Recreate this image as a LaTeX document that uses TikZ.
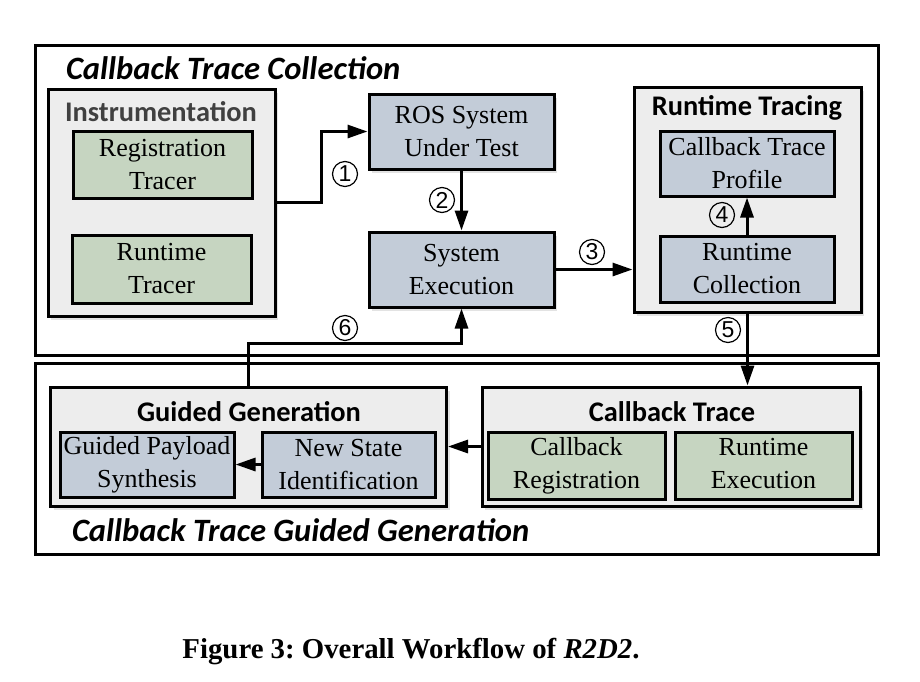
\documentclass[tikz,border=0pt]{standalone}
\usepackage{fontspec}
\setmainfont{Liberation Serif}
\newfontfamily\headfont{Carlito}
\newfontfamily\numfont{Liberation Sans}
\usepackage{xcolor}
\usetikzlibrary{arrows.meta,positioning,shadows}
\definecolor{groupgray}{HTML}{EDEDED}
\definecolor{stepblue}{HTML}{C3CCD8}
\definecolor{tracegreen}{HTML}{C6D5C1}
\newcommand{\boxfont}{\fontsize{13}{16.5}\selectfont}

\begin{document}
\begin{tikzpicture}[x=0.5pt,y=-0.5pt,
  frame/.style={draw,line width=1.5pt,inner sep=0pt},
  group/.style={draw,line width=1.5pt,fill=groupgray,inner sep=0pt,
    drop shadow={shadow xshift=1.5pt,shadow yshift=-2pt,opacity=0.22}},
  stepbox/.style={draw,line width=1.5pt,fill=stepblue,inner sep=0pt,
    align=center,font=\boxfont},
  tracebox/.style={stepbox,fill=tracegreen},
  grouptitle/.style={font=\headfont\bfseries\fontsize{14.2}{15}\selectfont},
  parttitle/.style={font=\headfont\bfseries\itshape\fontsize{16.3}{17}\selectfont,anchor=west},
  numlabel/.style={circle,draw,line width=0.6pt,inner sep=0pt,minimum size=12.5pt,
    font=\numfont\fontsize{11.5}{11.5}\selectfont},
  flow/.style={line width=1.5pt,-{Triangle[length=10pt,width=6.5pt]}}]
  \useasboundingbox (0,0) rectangle (920,681);

  \node[frame,minimum width=421.5pt,minimum height=155pt] (collect) at (456.5,200) {};
  \node[frame,minimum width=421.5pt,minimum height=95.5pt] (guide) at (456.5,458.5) {};
  \node[parttitle] (collecttitle) at (59,68) {Callback Trace Collection};
  \node[parttitle] (guidetitle) at (65,530) {Callback Trace Guided Generation};

  \node[group,minimum width=113.5pt,minimum height=113.5pt] (instr) at (161.5,202.5) {};
  \node[grouptitle,text=black!75] (instrtitle) at (161,112) {Instrumentation};
  \node[tracebox,minimum width=89.5pt,minimum height=33.5pt] (regtracer) at (162.5,164.5) {Registration\\Tracer};
  \node[tracebox,minimum width=89.5pt,minimum height=34pt] (runtracer) at (161.5,269) {Runtime\\Tracer};

  \node[stepbox,minimum width=92.5pt,minimum height=37.5pt,
    drop shadow={shadow xshift=1.5pt,shadow yshift=-2pt,opacity=0.22}] (ros) at (461.5,131.5) {ROS System\\Under Test};
  \node[stepbox,minimum width=92.5pt,minimum height=37.5pt,
    drop shadow={shadow xshift=1.5pt,shadow yshift=-2pt,opacity=0.22}] (sysexec) at (461.5,269.5) {System\\Execution};

  \node[group,minimum width=113.5pt,minimum height=112.5pt] (rtrace) at (747.5,199.5) {};
  \node[grouptitle] (rtracetitle) at (747,108) {Runtime Tracing};
  \node[stepbox,minimum width=87pt,minimum height=32.5pt] (profile) at (747,163.5) {Callback Trace\\Profile};
  \node[stepbox,minimum width=87pt,minimum height=33pt] (rcollect) at (747,269) {Runtime\\Collection};

  \node[group,minimum width=198pt,minimum height=59.5pt] (ggen) at (248.5,446.5) {};
  \node[grouptitle] (ggentitle) at (249,412) {Guided Generation};
  \node[stepbox,minimum width=87pt,minimum height=32.5pt] (payload) at (147,464.5) {Guided Payload\\Synthesis};
  \node[stepbox,minimum width=86.5pt,minimum height=32.5pt] (newstate) at (348.5,464.5) {New State\\Identification};

  \node[group,minimum width=189pt,minimum height=59.5pt] (ctrace) at (671,446.5) {};
  \node[grouptitle] (ctracetitle) at (672,412) {Callback Trace};
  \node[tracebox,minimum width=88.5pt,minimum height=33.5pt] (cbreg) at (576.5,465.5) {\strut Callback\\\strut Registration};
  \node[tracebox,minimum width=88.5pt,minimum height=33.5pt] (rexec) at (763.5,465.5) {\strut Runtime\\\strut Execution};

  \draw[flow] (instr.east) -- ++(45,0) |- (ros.west);
  \draw[flow] (ros) -- (sysexec);
  \draw[flow] (sysexec.east) -- (sysexec.east -| rtrace.west);
  \draw[flow] (rcollect) -- (profile);
  \draw[flow] (rtrace.south) -- (rtrace.south |- ctrace.north);
  \draw[flow] (ggen.north) -- ++(0,-42) -| (sysexec.south);
  \draw[flow] (ctrace.west) -- (ctrace.west -| ggen.east);
  \draw[flow] (newstate) -- (payload);

  \node[numlabel] (n1) at (345,174) {1};
  \node[numlabel] (n2) at (442,200) {2};
  \node[numlabel] (n3) at (592,252) {3};
  \node[numlabel] (n4) at (722,215) {4};
  \node[numlabel] (n5) at (728,330) {5};
  \node[numlabel] (n6) at (345,328) {6};

  \node[font=\bfseries\fontsize{14.4}{17}\selectfont] (caption) at (411,652)
    {\frenchspacing Figure 3: Overall Workflow of \textit{R2D2}.};
\end{tikzpicture}
\end{document}
